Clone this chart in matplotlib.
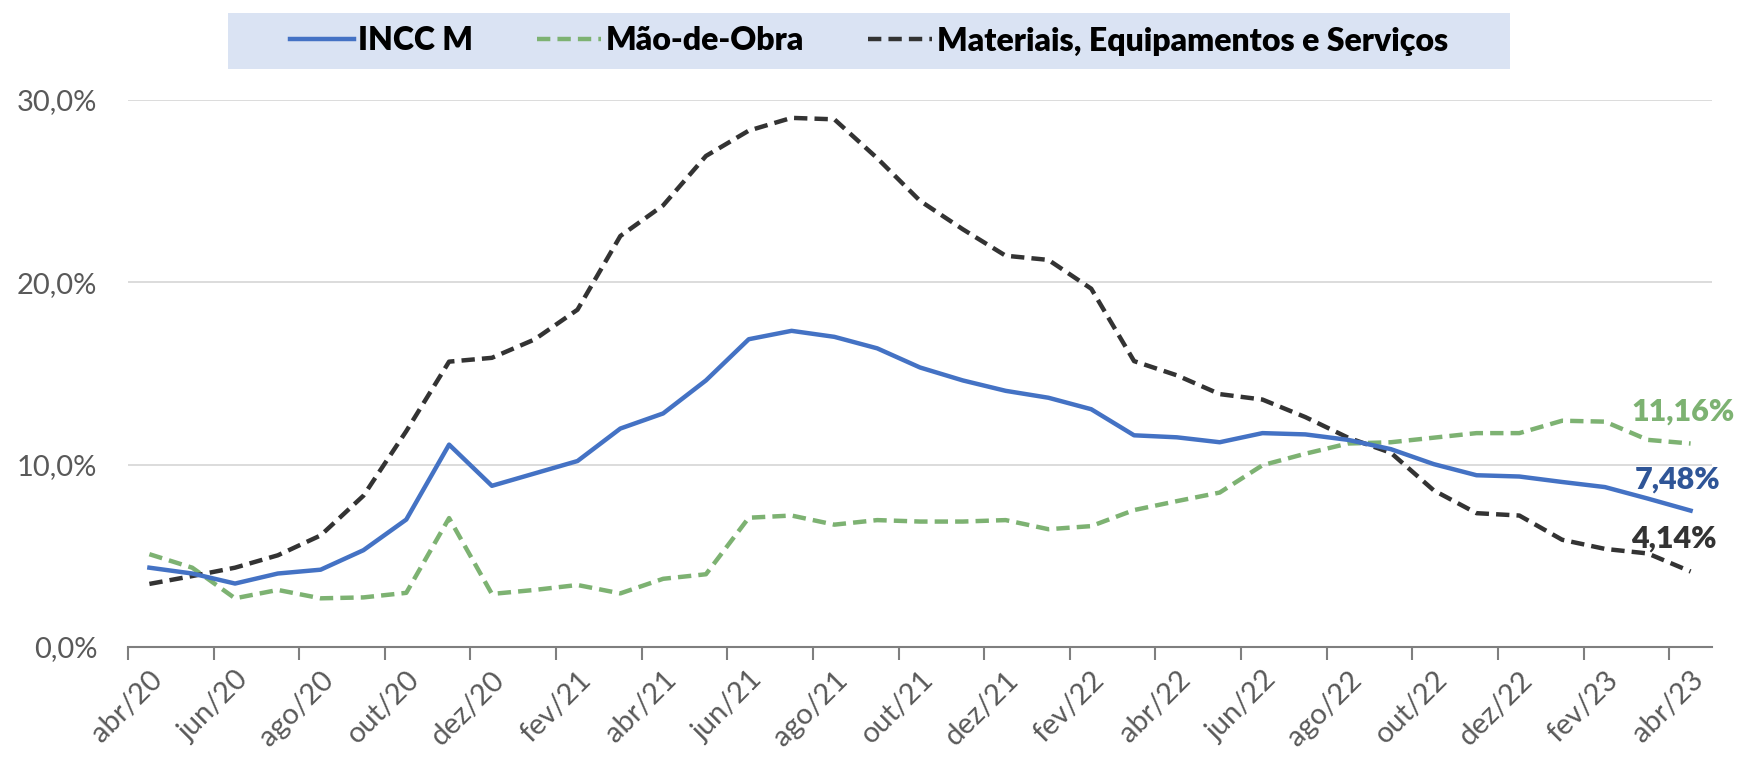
import matplotlib.pyplot as plt
from matplotlib.patches import Rectangle

# meses abr/20 .. abr/23
meses = ["abr/20", "mai/20", "jun/20", "jul/20", "ago/20", "set/20", "out/20", "nov/20",
         "dez/20", "jan/21", "fev/21", "mar/21", "abr/21", "mai/21", "jun/21", "jul/21",
         "ago/21", "set/21", "out/21", "nov/21", "dez/21", "jan/22", "fev/22", "mar/22",
         "abr/22", "mai/22", "jun/22", "jul/22", "ago/22", "set/22", "out/22", "nov/22",
         "dez/22", "jan/23", "fev/23", "mar/23", "abr/23"]

incc = [4.35, 4.03, 3.48, 4.03, 4.24, 5.31, 6.99, 11.10, 8.84, 9.52, 10.20, 11.98,
        12.81, 14.62, 16.88, 17.34, 17.01, 16.38, 15.33, 14.62, 14.05, 13.67, 13.04,
        11.61, 11.50, 11.23, 11.73, 11.66, 11.36, 10.85, 10.03, 9.42, 9.35, 9.05,
        8.77, 8.14, 7.48]

mao_obra = [5.09, 4.35, 2.67, 3.13, 2.67, 2.72, 2.97, 7.07, 2.91, 3.13, 3.40, 2.94,
            3.74, 3.99, 7.09, 7.21, 6.71, 6.96, 6.88, 6.88, 6.96, 6.46, 6.63, 7.51,
            8.00, 8.47, 9.97, 10.60, 11.16, 11.23, 11.48, 11.73, 11.73, 12.41, 12.36,
            11.36, 11.16]

materiais = [3.46, 3.89, 4.35, 5.03, 6.12, 8.30, 11.84, 15.65, 15.86, 16.87, 18.50,
             22.54, 24.22, 26.93, 28.32, 29.02, 28.94, 26.81, 24.47, 22.91, 21.46,
             21.23, 19.65, 15.68, 14.90, 13.87, 13.57, 12.61, 11.48, 10.65, 8.59, 7.34,
             7.21, 5.88, 5.38, 5.13, 4.14]

yticks = [0, 10, 20, 30]
ytick_labels = ["0,0%", "10,0%", "20,0%", "30,0%"]

AZUL = "#4472C4"
VERDE = "#7DB272"
PRETO = "#333333"
CINZA = "#595959"

plt.rcParams["font.family"] = ["Lato", "DejaVu Sans"]

fig = plt.figure(figsize=(17.47, 7.8), dpi=100)
ax = fig.add_axes([128 / 1747, 1 - 647 / 780, (1712 - 128) / 1747, (647 - 100) / 780])

x = list(range(len(meses)))
ax.plot(x, incc, color=AZUL, lw=3.2, label="INCC M", zorder=4)
ax.plot(x, mao_obra, color=VERDE, lw=3.2, ls=(0, (3, 1.6)), label="Mão-de-Obra", zorder=3)
ax.plot(x, materiais, color=PRETO, lw=3.2, ls=(0, (3, 1.6)),
        label="Materiais, Equipamentos e Serviços", zorder=3)

ax.set_xlim(-0.5, len(meses) - 0.5)
ax.set_ylim(0, 30)

# ticks entre categorias, rótulos a cada 2 meses
ax.set_xticks([i - 0.5 for i in range(0, len(meses), 2)])
ax.set_xticklabels([])
ax.set_xticks(x[::2], minor=True)
ax.set_xticklabels(meses[::2], minor=True, rotation=45, ha="right", va="top",
                   rotation_mode="anchor", fontsize=21, color=CINZA)
ax.tick_params(axis="x", which="major", length=9, width=1.5, color="#7F7F7F", direction="out")
ax.tick_params(axis="x", which="minor", length=0, pad=14)

ax.set_yticks(yticks)
ax.set_yticklabels(ytick_labels, fontsize=21, color=CINZA)
ax.tick_params(axis="y", length=0, pad=22)
ax.grid(axis="y", color="#D9D9D9", lw=1.3)
ax.set_axisbelow(True)

for s in ["top", "right", "left"]:
    ax.spines[s].set_visible(False)
ax.spines["bottom"].set_color("#7F7F7F")
ax.spines["bottom"].set_linewidth(1.5)

# rótulos finais
n = len(meses) - 1
ax.annotate("11,16%", (n, mao_obra[-1]), xytext=(-8, 32), textcoords="offset pixels",
            ha="center", va="center", fontsize=22, fontweight="heavy", color=VERDE)
ax.annotate("7,48%", (n, incc[-1]), xytext=(-13, 31), textcoords="offset pixels",
            ha="center", va="center", fontsize=22, fontweight="heavy", color="#2F5597")
ax.annotate("4,14%", (n, materiais[-1]), xytext=(-17, 33), textcoords="offset pixels",
            ha="center", va="center", fontsize=22, fontweight="heavy", color=PRETO)

# legenda com fundo azul claro
fig.patches.append(Rectangle((228 / 1747, 1 - 69 / 780), (1510 - 228) / 1747, 56 / 780,
                             facecolor="#DAE3F3", edgecolor="none",
                             transform=fig.transFigure, zorder=0))
leg = fig.legend(loc="center", bbox_to_anchor=(869 / 1747, 1 - 41 / 780), ncol=3,
                 frameon=False, handlelength=2.0, handletextpad=0.15, columnspacing=2.0,
                 prop={"size": 23, "weight": "heavy"})

fig.savefig("out.png", dpi=100)
